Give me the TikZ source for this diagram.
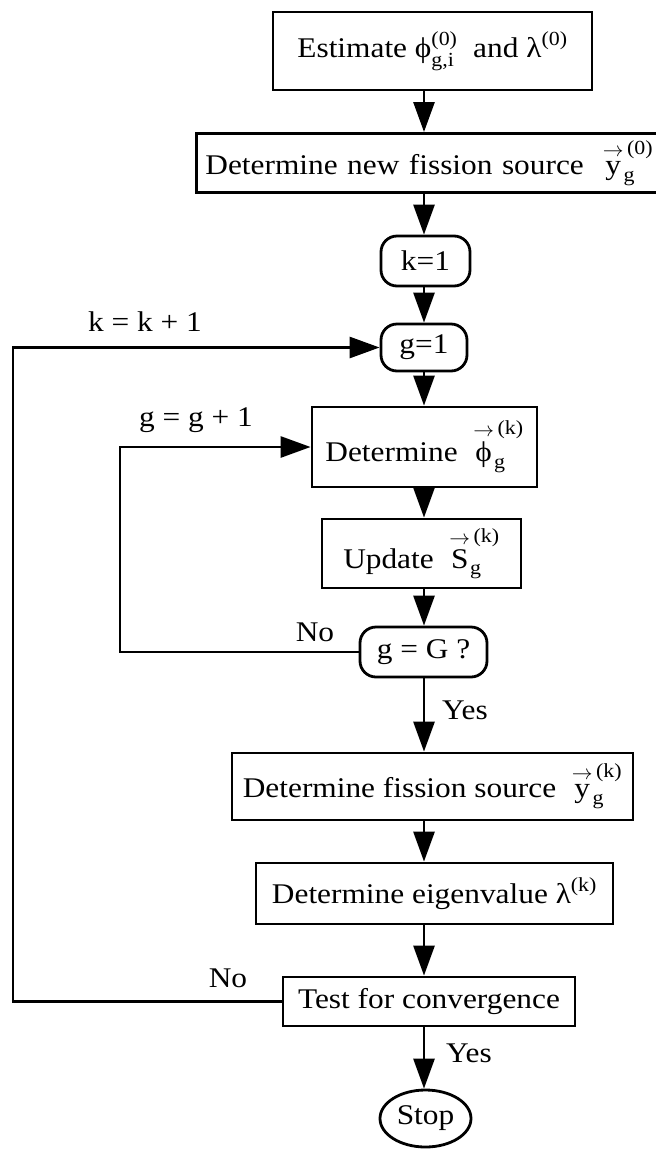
\documentclass[tikz,border=0pt]{standalone}
\usepackage{amsmath}
\usepackage{fontspec}
\setmainfont[FakeStretch=1.1]{Liberation Serif}
\usetikzlibrary{arrows.meta,shapes.geometric}
\newcommand{\vv}[1]{\overset{\rightarrow}{\text{#1}}}
\begin{document}
\begin{tikzpicture}[x=1pt,y=-1pt,
  every node/.style={font=\fontsize{28.5}{32}\selectfont},
  box/.style={draw, line width=2.8pt, inner sep=0pt},
  rbox/.style={box, rounded corners=16pt},
  oval/.style={draw, ellipse, line width=2.8pt, inner sep=0pt},
  arr/.style={line width=2.8pt, line join=miter, -{Triangle[length=30pt,width=21pt]}},
  lbl/.style={inner sep=0pt}
]
\useasboundingbox (0,0) rectangle (656,1149);
\coordinate (ax) at (424,0);
\coordinate (kl) at (13,0);
\coordinate (gl) at (120,0);

\node[box, minimum width=319pt, minimum height=78pt] (est) at (432.5,51)
  {Estimate $\text{ϕ}_{\text{g,i}}^{\text{(0)}}$\ \ and\ $\text{λ}^{\text{(0)}}$};
\node[box, anchor=north west, minimum height=59pt, text width=470pt, inner xsep=9pt, align=left] (src) at (195,132)
  {Determine new fission source\ \ $\vv{y}_{\text{g}}^{\,\text{(0)}}$};
\node[rbox, minimum width=89pt, minimum height=50pt] (k1) at (425.5,261) {k=1};
\node[rbox, minimum width=86pt, minimum height=47pt] (g1) at (424,347.5) {g=1};
\node[box, minimum width=225pt, minimum height=80pt] (phi) at (424.5,447)
  {Determine\ \ $\vv{ϕ}_{\text{g}}^{\,\text{(k)}}$};
\node[box, minimum width=199pt, minimum height=69pt] (upd) at (421.5,553.5)
  {Update\ \ $\vv{S}_{\text{g}}^{\,\text{(k)}}$};
\node[rbox, minimum width=127pt, minimum height=50pt] (gG) at (423.5,652) {g = G ?};
\node[box, minimum width=401pt, minimum height=67pt] (fis) at (432.5,786.5)
  {Determine fission source\ \ $\vv{y}_{\text{g}}^{\,\text{(k)}}$};
\node[box, minimum width=357pt, minimum height=61pt] (eig) at (434.5,893.5)
  {Determine eigenvalue $\text{λ}^{\text{(k)}}$};
\node[box, minimum width=292pt, minimum height=49pt] (test) at (429,1001.5) {Test for convergence};
\node[oval, minimum width=91pt, minimum height=57pt] (stop) at (425.5,1118.5) {Stop};

\draw[arr] (est.south -| ax) -- (src.north -| ax);
\draw[arr] (src.south -| ax) -- (k1.north -| ax);
\draw[arr] (k1.south -| ax) -- (g1.north -| ax);
\draw[arr] (g1.south -| ax) -- (phi.north -| ax);
\draw[arr] (phi.south -| ax) -- (upd.north -| ax);
\draw[arr] (upd.south -| ax) -- (gG.north -| ax);
\draw[arr] (gG.south -| ax) -- (fis.north -| ax);
\draw[arr] (fis.south -| ax) -- (eig.north -| ax);
\draw[arr] (eig.south -| ax) -- (test.north -| ax);
\draw[arr] (test.south -| ax) -- (stop.north -| ax);

\draw[arr] (gG.west) -- (gG.west -| gl) -- (phi.west -| gl) -- (phi.west);
\draw[arr] (test.west) -- (test.west -| kl) -- (g1.west -| kl) -- (g1.west);

\node[lbl] (lk) at (145,322) {k = k + 1};
\node[lbl] (lg) at (196,420) {g = g + 1};
\node[lbl] (no1) at (315,632) {No};
\node[lbl] (yes1) at (465,710) {Yes};
\node[lbl] (no2) at (228,978) {No};
\node[lbl] (yes2) at (469,1053) {Yes};
\end{tikzpicture}
\end{document}
